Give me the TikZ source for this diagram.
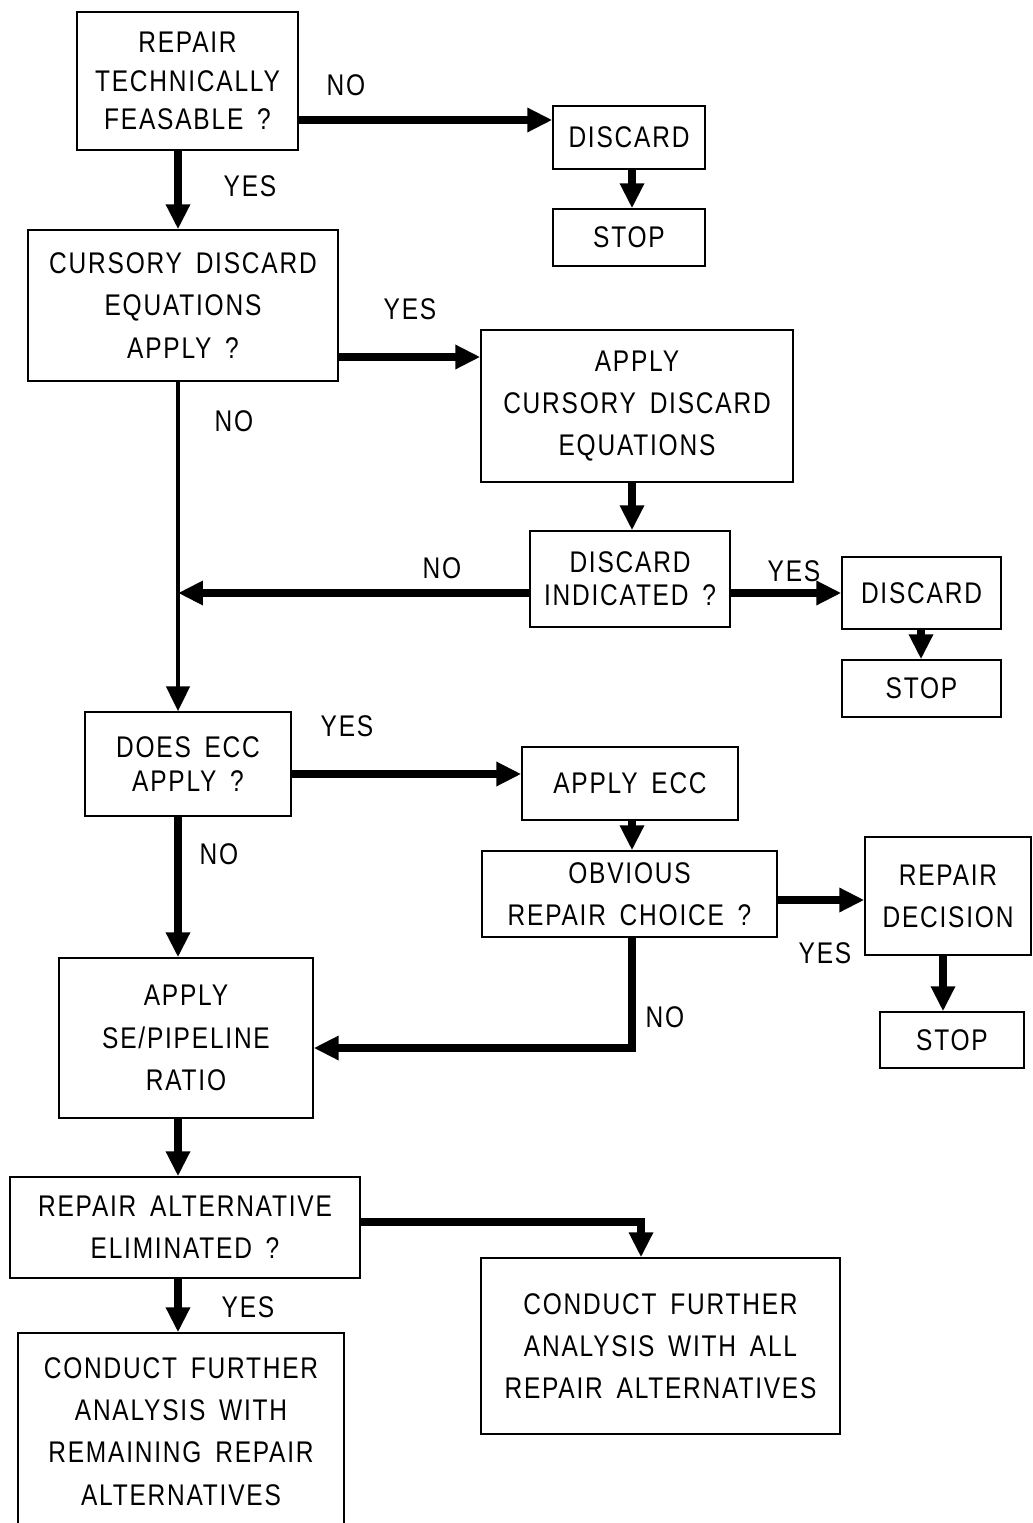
\documentclass[tikz,border=0pt]{standalone}
\usepackage{fontspec}
\setmainfont{Liberation Sans}[FakeStretch=0.82,LetterSpace=6,WordSpace=1.6]
\usetikzlibrary{arrows.meta}
\tikzset{
 box/.style={draw, line width=0.8pt, inner sep=0pt, align=center, font=\fontsize{17}{24}\selectfont},
 tight/.style={font=\fontsize{17}{19}\selectfont},
 mid/.style={font=\fontsize{17}{22}\selectfont},
 lbl/.style={inner sep=0pt, font=\fontsize{17}{20}\selectfont},
 arr/.style={line width=0.17cm, line join=miter, -{Triangle[width=0.46cm,length=0.5cm]}},
 arrthin/.style={line width=0.09cm, -{Triangle[width=0.46cm,length=0.5cm]}},
}
\newcommand\bx[7][]{\node[box,#1,minimum width={(#5-#3)*0.02cm},minimum height={(#6-#4)*0.02cm}] (#2) at ({(#3+#5)/2},{(#4+#6)/2}) {#7};}
\begin{document}
\begin{tikzpicture}[x=0.02cm,y=-0.02cm]
\useasboundingbox (0,0) rectangle (1033,1523);
\bx[mid]{A}{77}{12}{298}{150}{REPAIR\\TECHNICALLY\\FEASABLE ?}
\bx{DA}{553}{106}{705}{169}{DISCARD}
\bx{SA}{553}{209}{705}{266}{STOP}
\bx{B}{28}{230}{338}{381}{CURSORY DISCARD\\EQUATIONS\\APPLY ?}
\bx{C}{481}{330}{793}{482}{APPLY\\CURSORY DISCARD\\EQUATIONS}
\bx[tight]{D}{530}{531}{730}{627}{DISCARD\\INDICATED ?}
\bx{DB}{842}{557}{1001}{629}{DISCARD}
\bx{SB}{842}{660}{1001}{717}{STOP}
\bx[tight]{E}{85}{712}{291}{816}{DOES ECC\\APPLY ?}
\bx{ECC}{522}{747}{738}{820}{APPLY ECC}
\bx{OBV}{482}{851}{777}{937}{OBVIOUS\\REPAIR CHOICE ?}
\bx{RD}{865}{837}{1031}{955}{REPAIR\\DECISION}
\bx{SC}{880}{1012}{1024}{1068}{STOP}
\bx{SE}{59}{958}{313}{1118}{APPLY\\SE/PIPELINE\\RATIO}
\bx{RAE}{10}{1177}{360}{1278}{REPAIR ALTERNATIVE\\ELIMINATED ?}
\bx{REM}{18}{1333}{344}{1530}{CONDUCT FURTHER\\ANALYSIS WITH\\REMAINING REPAIR\\ALTERNATIVES}
\bx{ALL}{481}{1258}{840}{1434}{CONDUCT FURTHER\\ANALYSIS WITH ALL\\REPAIR ALTERNATIVES}
\coordinate (k3) at (178,593);
\coordinate (k1) at (632,1048);
\coordinate (k2) at (641,1222);
% arrows
\draw[arr] (A.south -| k3) -- (B.north -| k3);
\draw[arr] (A.east |- 0,120) -- (DA.west |- 0,120);
\draw[arr] (DA.south -| 632,0) -- (SA.north -| 632,0);
\draw[arr] (B.east |- 0,357) -- (C.west |- 0,357);
\draw[arrthin] (B.south -| k3) -- (E.north -| k3);
\draw[arr] (C.south -| 632,0) -- (D.north -| 632,0);
\draw[arr] (D.west |- k3) -- (k3);
\draw[arr] (D.east |- DB.west) -- (DB.west);
\draw[arr] (DB.south -| 921,0) -- (SB.north -| 921,0);
\draw[arr] (E.east |- 0,774) -- (ECC.west |- 0,774);
\draw[arr] (E.south -| k3) -- (SE.north -| k3);
\draw[arr] (ECC.south -| 632,0) -- (OBV.north -| 632,0);
\draw[arr] (OBV.east |- 0,900) -- (RD.west |- 0,900);
\draw[arr] (OBV.south -| k1) -- (k1) -- (SE.east |- k1);
\draw[arr] (RD.south -| 943,0) -- (SC.north -| 943,0);
\draw[arr] (SE.south -| k3) -- (RAE.north -| k3);
\draw[arr] (RAE.east |- k2) -- (k2) -- (ALL.north -| k2);
\draw[arr] (RAE.south -| k3) -- (REM.north -| k3);
% labels
\node[lbl] (l1) at (346,85) {NO};
\node[lbl] (l2) at (250,186) {YES};
\node[lbl] (l3) at (410,309) {YES};
\node[lbl] (l4) at (234,421) {NO};
\node[lbl] (l5) at (442,568) {NO};
\node[lbl] (l6) at (794,571) {YES};
\node[lbl] (l7) at (347,726) {YES};
\node[lbl] (l8) at (219,854) {NO};
\node[lbl] (l9) at (825,953) {YES};
\node[lbl] (l10) at (665,1017) {NO};
\node[lbl] (l11) at (248,1307) {YES};
\end{tikzpicture}
\end{document}
